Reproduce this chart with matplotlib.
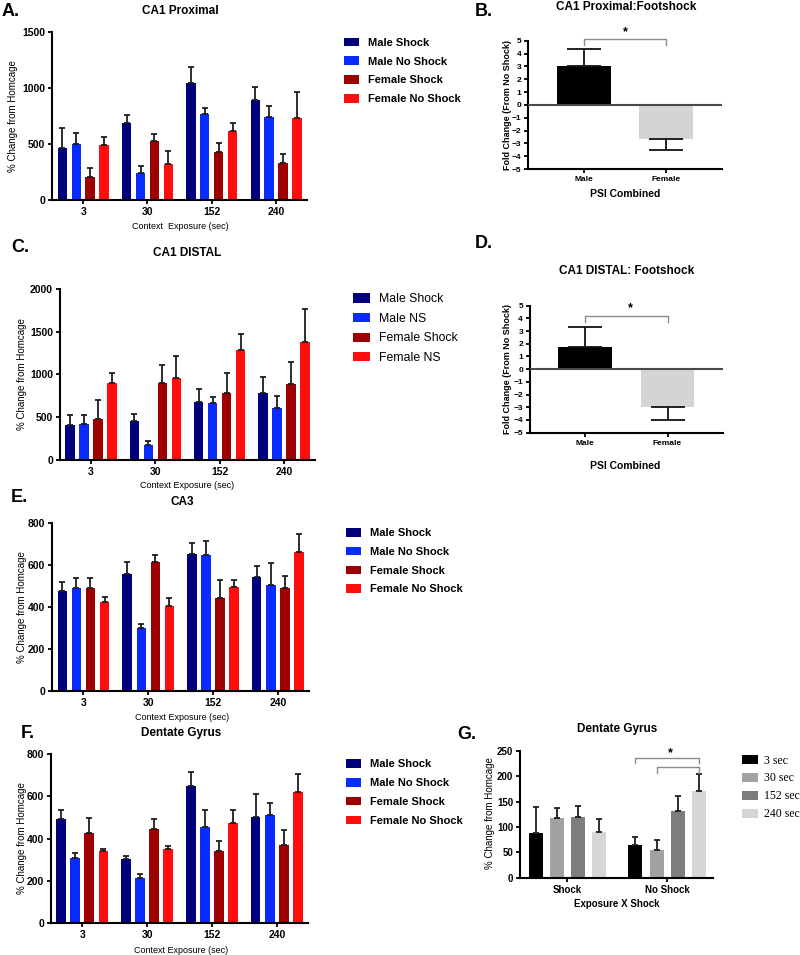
import numpy as np
import matplotlib
matplotlib.use("Agg")
import matplotlib.pyplot as plt
from matplotlib.patches import Patch

plt.rcParams["font.family"] = ["Liberation Sans", "DejaVu Sans"]

# ---- values ----
exposure = ["3", "30", "152", "240"]
legend_ns = ["Male Shock", "Male No Shock", "Female Shock", "Female No Shock"]
legend_ns_short = ["Male Shock", "Male NS", "Female Shock", "Female NS"]
bar_colors = ["#00007f", "#0a2bff", "#9c0000", "#ff0d0d"]

# A. CA1 proximal
ca1p_ms = [462, 688, 1044, 895]
ca1p_mns = [501, 243, 768, 738]
ca1p_fs = [205, 525, 430, 335]
ca1p_fns = [489, 320, 617, 729]
ca1p_ms_err = [184, 71, 145, 116]
ca1p_mns_err = [98, 59, 53, 104]
ca1p_fs_err = [83, 65, 80, 80]
ca1p_fns_err = [71, 119, 71, 234]

# C. CA1 distal
ca1d_ms = [402, 453, 676, 781]
ca1d_mns = [422, 168, 664, 609]
ca1d_fs = [477, 898, 781, 883]
ca1d_fns = [898, 961, 1285, 1379]
ca1d_ms_err = [118, 86, 152, 184]
ca1d_mns_err = [105, 47, 70, 141]
ca1d_fs_err = [218, 211, 239, 265]
ca1d_fns_err = [122, 258, 192, 391]

# E. CA3
ca3_ms = [476, 557, 650, 541]
ca3_mns = [490, 302, 645, 503]
ca3_fs = [490, 613, 443, 490]
ca3_fns = [425, 403, 496, 659]
ca3_ms_err = [41, 58, 52, 55]
ca3_mns_err = [46, 17, 70, 107]
ca3_fs_err = [49, 35, 85, 59]
ca3_fns_err = [24, 41, 34, 86]

# F. dentate gyrus
dg_ms = [492, 302, 648, 504]
dg_mns = [310, 212, 454, 514]
dg_fs = [425, 444, 343, 370]
dg_fns = [340, 349, 474, 621]
dg_ms_err = [44, 17, 68, 108]
dg_mns_err = [24, 22, 82, 57]
dg_fs_err = [75, 48, 48, 73]
dg_fns_err = [13, 18, 62, 87]

# B / D. fold change from no shock
sex = ["Male", "Female"]
ca1p_fold = [3.03, -2.66]
ca1p_fold_err = [1.30, 0.89]
ca1d_fold = [1.72, -2.98]
ca1d_fold_err = [1.57, 1.02]

# G. dentate gyrus, exposure x shock
shock_cond = ["Shock", "No Shock"]
dg_times = ["3 sec", "30 sec", "152 sec", "240 sec"]
dg_3 = [88, 65]
dg_30 = [118, 54]
dg_152 = [119, 132]
dg_240 = [91, 171]
dg_3_err = [51, 15]
dg_30_err = [19, 20]
dg_152_err = [23, 30]
dg_240_err = [25, 34]
grey_colors = ["#000000", "#a2a2a2", "#7d7d7d", "#d6d6d6"]

W, H = 800, 955
fig = plt.figure(figsize=(W / 100, H / 100), dpi=100)


def add_ax(x0, ytop, x1, ybot):
    return fig.add_axes([x0 / W, 1 - ybot / H, (x1 - x0) / W, (ybot - ytop) / H])


def ftext(x, y, s, **kw):
    fig.text(x / W, 1 - y / H, s, **kw)


def style(ax, labelsize=7.5):
    for s in ("top", "right"):
        ax.spines[s].set_visible(False)
    for s in ("left", "bottom"):
        ax.spines[s].set_linewidth(1.5)
    ax.tick_params(direction="out", length=3, width=1.3, labelsize=labelsize, pad=2)
    for lab in ax.get_xticklabels() + ax.get_yticklabels():
        lab.set_fontweight("bold")


def grouped(ax, series, errs, ymax, step):
    x = np.arange(len(exposure))
    for i, (vals, err, col) in enumerate(zip(series, errs, bar_colors)):
        xs = x + (i - 1.5) * 0.217
        ax.bar(xs, vals, 0.145, color=col, zorder=2)
        ax.errorbar(xs, vals, yerr=[np.zeros(len(vals)), err], fmt="none",
                    ecolor="#1e1e1e", elinewidth=1.3, capsize=2, capthick=1.3, zorder=3)
    ax.set_xlim(-0.48, 3.48)
    ax.set_ylim(0, ymax)
    ax.set_yticks(np.arange(0, ymax + 1, step))
    ax.set_xticks(x, exposure)
    style(ax)


def legend(ax, labels, colors, x, y, prop, spacing=0.78, textpad=0.8):
    handles = [Patch(facecolor=c, label=l) for c, l in zip(colors, labels)]
    ax.legend(handles=handles, loc="upper left", bbox_to_anchor=(x / W, 1 - y / H),
              bbox_transform=fig.transFigure, frameon=False, prop=prop,
              handlelength=1.35, handleheight=0.8, handletextpad=textpad,
              labelspacing=spacing, borderpad=0, borderaxespad=0)


def fold(ax, vals, errs):
    x = np.arange(len(sex))
    ax.bar(x, vals, 0.65, color=["#000000", "#d4d4d4"], zorder=2)
    lower = [0 if v > 0 else e for v, e in zip(vals, errs)]
    upper = [e if v > 0 else 0 for v, e in zip(vals, errs)]
    ax.errorbar(x, vals, yerr=[lower, upper], fmt="none", ecolor="#111111",
                elinewidth=1.3, capsize=12, capthick=1.3, zorder=3)
    ax.axhline(0, color="#4a4a4a", lw=1.5, zorder=4)
    ax.set_ylim(-5, 5)
    ax.set_yticks(np.arange(-5, 6, 1))
    ax.set_xlim(-0.67, 1.67)
    ax.set_xticks(x, sex)
    style(ax, labelsize=6)


def bracket(ax, x0, x1, ytop, yend, color="#8c8c8c"):
    ax.plot([x0, x0, x1, x1], [yend, ytop, ytop, yend], color=color, lw=1,
            clip_on=False, zorder=5)


letter_kw = dict(fontsize=13, fontweight="bold", va="center", ha="left")
title_kw = dict(fontsize=8.5, fontweight="bold", va="center", ha="center")
ylab_kw = dict(fontsize=7, rotation=90, va="center", ha="center")
xlab_kw = dict(fontsize=6.5, va="center", ha="center")
bold_leg = {"weight": "bold", "size": 8}

# ---- A ----
axA = add_ax(52.3, 31.7, 307, 200.3)
grouped(axA, [ca1p_ms, ca1p_mns, ca1p_fs, ca1p_fns],
        [ca1p_ms_err, ca1p_mns_err, ca1p_fs_err, ca1p_fns_err], 1500, 500)
legend(axA, legend_ns, bar_colors, 344, 37.7, bold_leg)
ftext(2, 11, "A.", **letter_kw)
ftext(180, 11, "CA1 Proximal", **title_kw)
ftext(13, 116, "% Change from Homcage", **ylab_kw)
ftext(180, 226, "Context  Exposure (sec)", **xlab_kw)

# ---- B ----
axB = add_ax(528.3, 40.7, 721.7, 169)
fold(axB, ca1p_fold, ca1p_fold_err)
bracket(axB, 0, 1, 5.1, 4.66)
axB.text(0.5, 5.7, "*", ha="center", va="center", fontsize=9, fontweight="bold", clip_on=False)
ftext(475, 12, "B.", **letter_kw)
ftext(626, 7, "CA1 Proximal:Footshock", **title_kw)
ftext(508, 105, "Fold Change (From No Shock)", fontsize=6.5, fontweight="bold",
      rotation=90, va="center", ha="center")
ftext(625, 194, "PSI Combined", fontsize=7.5, fontweight="bold", va="center", ha="center")

# ---- C ----
axC = add_ax(60, 289, 315, 459.7)
grouped(axC, [ca1d_ms, ca1d_mns, ca1d_fs, ca1d_fns],
        [ca1d_ms_err, ca1d_mns_err, ca1d_fs_err, ca1d_fns_err], 2000, 500)
legend(axC, legend_ns_short, bar_colors, 353, 293.3, {"size": 8.8}, spacing=0.62)
ftext(11, 248, "C.", **letter_kw)
ftext(187, 253, "CA1 DISTAL", **title_kw)
ftext(22, 374, "% Change from Homcage", **ylab_kw)
ftext(187, 485, "Context Exposure (sec)", **xlab_kw)

# ---- D ----
axD = add_ax(530, 305.7, 722.7, 432.7)
fold(axD, ca1d_fold, ca1d_fold_err)
bracket(axD, 0, 1, 4.21, 3.74)
axD.text(0.55, 4.8, "*", ha="center", va="center", fontsize=9, fontweight="bold", clip_on=False)
ftext(475, 243, "D.", **letter_kw)
ftext(627, 271, "CA1 DISTAL: Footshock", **title_kw)
ftext(508, 369, "Fold Change (From No Shock)", fontsize=6.5, fontweight="bold",
      rotation=90, va="center", ha="center")
ftext(625, 466, "PSI Combined", fontsize=7.5, fontweight="bold", va="center", ha="center")

# ---- E ----
axE = add_ax(52.3, 522.7, 309, 691.3)
grouped(axE, [ca3_ms, ca3_mns, ca3_fs, ca3_fns],
        [ca3_ms_err, ca3_mns_err, ca3_fs_err, ca3_fns_err], 800, 200)
legend(axE, legend_ns, bar_colors, 346, 528, bold_leg)
ftext(11, 498, "E.", **letter_kw)
ftext(182, 502, "CA3", **title_kw)
ftext(22, 607, "% Change from Homcage", **ylab_kw)
ftext(182, 718, "Context Exposure (sec)", **xlab_kw)

# ---- F ----
axF = add_ax(51, 754.3, 308, 923)
grouped(axF, [dg_ms, dg_mns, dg_fs, dg_fns],
        [dg_ms_err, dg_mns_err, dg_fs_err, dg_fns_err], 800, 200)
legend(axF, legend_ns, bar_colors, 346, 759.3, bold_leg)
ftext(21, 733, "F.", **letter_kw)
ftext(181, 733, "Dentate Gyrus", **title_kw)
ftext(22, 838, "% Change from Homcage", **ylab_kw)
ftext(181, 950, "Context Exposure (sec)", **xlab_kw)

# ---- G ----
axG = add_ax(520, 751, 713.3, 877.7)
xg = np.arange(len(shock_cond))
g_series = [dg_3, dg_30, dg_152, dg_240]
g_errs = [dg_3_err, dg_30_err, dg_152_err, dg_240_err]
for i, (vals, err, col) in enumerate(zip(g_series, g_errs, grey_colors)):
    xs = xg + (i - 1.5) * 0.2135
    axG.bar(xs, vals, 0.14, color=col, zorder=2)
    axG.errorbar(xs, vals, yerr=[np.zeros(len(vals)), err], fmt="none",
                 ecolor="#1e1e1e", elinewidth=1.3, capsize=2.5, capthick=1.3, zorder=3)
axG.set_xlim(-0.476, 1.462)
axG.set_ylim(0, 250)
axG.set_yticks(np.arange(0, 251, 50))
axG.set_xticks(xg, shock_cond)
style(axG, labelsize=7)
bracket(axG, 1 - 1.5 * 0.2135, 1 + 1.5 * 0.2135, 237, 225.6)
bracket(axG, 1 - 0.5 * 0.2135, 1 + 1.5 * 0.2135, 219, 206)
axG.text(1.03, 245, "*", ha="center", va="center", fontsize=9, fontweight="bold", clip_on=False)
legend(axG, dg_times, grey_colors, 742, 754.5,
       {"family": ["Liberation Serif", "DejaVu Serif"], "size": 8.5},
       spacing=0.5, textpad=0.55)
ftext(457, 734, "G.", **letter_kw)
ftext(617, 729, "Dentate Gyrus", **title_kw)
ftext(490, 813, "% Change from Homcage", **ylab_kw)
ftext(617, 904, "Exposure X Shock", fontsize=7, fontweight="bold", va="center", ha="center")

fig.savefig("out.png", dpi=100)
